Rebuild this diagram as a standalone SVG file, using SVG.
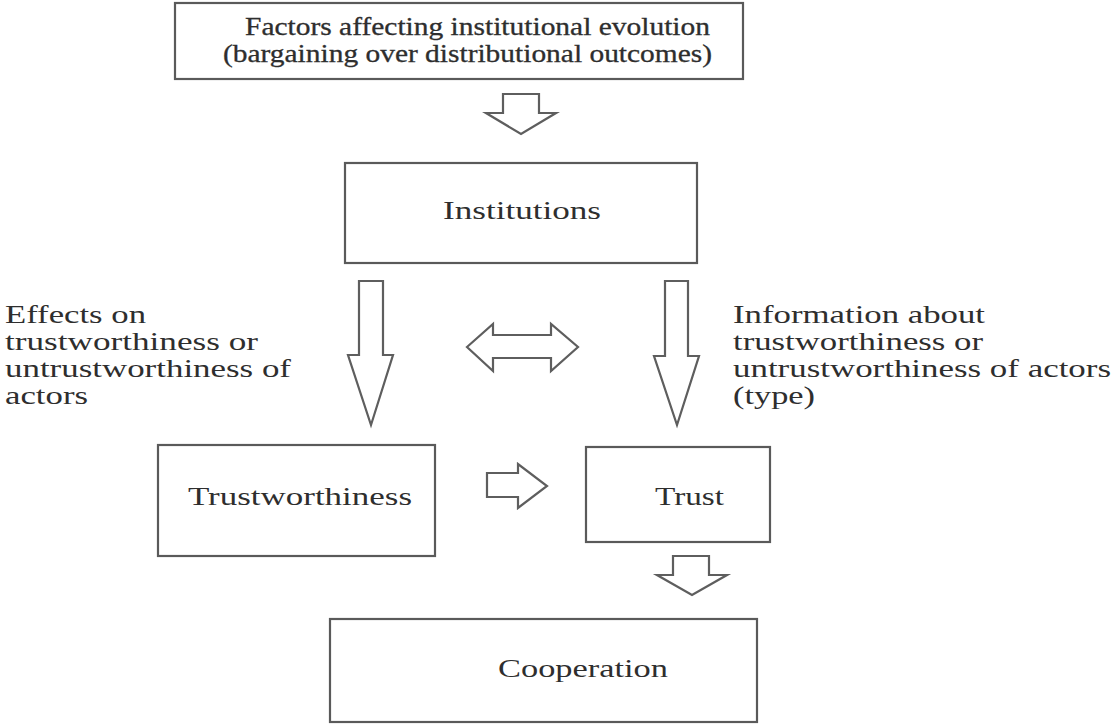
<svg xmlns="http://www.w3.org/2000/svg" width="1115" height="725" viewBox="0 0 1115 725">
  <style>
    .box { fill: #ffffff; stroke: #5a5a5a; stroke-width: 2.2; }
    .arrow { fill: #ffffff; stroke: #5e5e5e; stroke-width: 2.2; stroke-linejoin: miter; }
    .t { font-family: "Liberation Serif", "Times New Roman", serif; font-size: 25px; fill: #2e2e2e; }
    .heavy { stroke: #2e2e2e; stroke-width: 0.3; }
  </style>
  <rect width="1115" height="725" fill="#ffffff"/>

  <!-- nodes -->
  <g id="factors">
    <rect class="box" x="175" y="3" width="568" height="76"/>
    <text class="t heavy" x="245" y="35" textLength="465" lengthAdjust="spacingAndGlyphs">Factors affecting institutional evolution</text>
    <text class="t heavy" x="223" y="62" textLength="489" lengthAdjust="spacingAndGlyphs">(bargaining over distributional outcomes)</text>
  </g>

  <g id="institutions">
    <rect class="box" x="345" y="163" width="352" height="100"/>
    <text class="t" x="443" y="219" textLength="158" lengthAdjust="spacingAndGlyphs">Institutions</text>
  </g>

  <g id="trustworthiness">
    <rect class="box" x="158" y="445" width="277" height="111"/>
    <text class="t" x="188" y="505" textLength="224" lengthAdjust="spacingAndGlyphs">Trustworthiness</text>
  </g>

  <g id="trust">
    <rect class="box" x="586" y="447" width="184" height="95"/>
    <text class="t" x="655" y="505" textLength="69" lengthAdjust="spacingAndGlyphs">Trust</text>
  </g>

  <g id="cooperation">
    <rect class="box" x="330" y="619" width="427" height="103"/>
    <text class="t" x="498" y="677" textLength="170" lengthAdjust="spacingAndGlyphs">Cooperation</text>
  </g>

  <g id="effects-label">
    <text class="t" x="5" y="323" textLength="141" lengthAdjust="spacingAndGlyphs">Effects on</text>
    <text class="t" x="5" y="350" textLength="253" lengthAdjust="spacingAndGlyphs">trustworthiness or</text>
    <text class="t" x="5" y="377" textLength="286" lengthAdjust="spacingAndGlyphs">untrustworthiness of</text>
    <text class="t" x="5" y="404" textLength="83" lengthAdjust="spacingAndGlyphs">actors</text>
  </g>

  <g id="information-label">
    <text class="t" x="733" y="323" textLength="252" lengthAdjust="spacingAndGlyphs">Information about</text>
    <text class="t" x="733" y="350" textLength="250" lengthAdjust="spacingAndGlyphs">trustworthiness or</text>
    <text class="t" x="733" y="377" textLength="378" lengthAdjust="spacingAndGlyphs">untrustworthiness of actors</text>
    <text class="t" x="733" y="404" textLength="82" lengthAdjust="spacingAndGlyphs">(type)</text>
  </g>

  <!-- connectors: block arrows -->
  <g id="connectors">
    <!-- factors to institutions -->
    <polygon class="arrow" points="503,94 539,94 539,113 556,113 521,134 486,113 503,113"/>
    <!-- institutions to trustworthiness -->
    <polygon class="arrow" points="359,281 383,281 383,355 393,355 371,425 348,355 359,355"/>
    <!-- institutions to trust -->
    <polygon class="arrow" points="665,281 688,281 688,356 699,356 677,425 654,356 665,356"/>
    <!-- two-way link between the two paths -->
    <polygon class="arrow" points="467,347 493,324 493,335 551,335 551,324 578,347 551,371 551,358 493,358 493,371"/>
    <!-- trustworthiness to trust -->
    <polygon class="arrow" points="487,473 518,473 518,464 547,486 518,508 518,497 487,497"/>
    <!-- trust to cooperation -->
    <polygon class="arrow" points="673,556 709,556 709,575 727,575 692,595 657,575 673,575"/>
  </g>
</svg>
